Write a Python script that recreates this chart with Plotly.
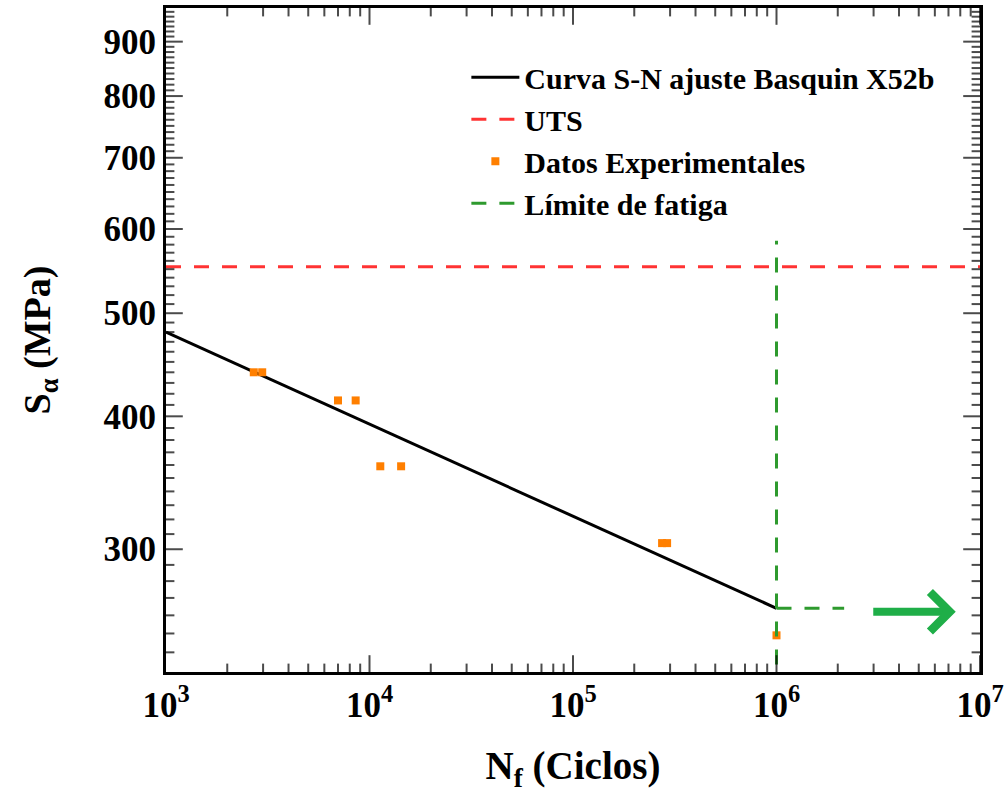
import math
import plotly.graph_objects as go

# Basquin S-N fit (end points of the fitted line)
fit_N = [1e3, 1e6]
fit_S = [480, 264]

# Ultimate tensile strength
uts_N = [1e3, 1e7]
uts_S = [553, 553]

# Experimental results (cycles to failure, stress amplitude)
exp_N = [2700, 2970, 7000, 8550, 11300, 14300, 274000, 290000, 1000000]
exp_S = [440, 440, 414, 414, 359, 359, 304, 304, 249]

# Fatigue limit at 1e6 cycles (vertical marker + horizontal run-out)
lim_N = [1e6, 1e6, None, 1e6, 2.15e6]
lim_S = [220, 585, None, 264, 264]

# Run-out arrow (tip position)
arrow_N = 7.6e6
arrow_S = 262

x_ticks = [1e3, 1e4, 1e5, 1e6, 1e7]
x_ticktext = ["<b>10<sup>%d</sup></b>" % e for e in range(3, 8)]
y_ticks = [300, 400, 500, 600, 700, 800, 900]
y_ticktext = ["<b>%d</b>" % v for v in y_ticks]

x_minor = [m * 10 ** d for d in range(3, 7) for m in range(2, 10)]
y_minor = [v for v in range(230, 970, 10) if v not in y_ticks]

FONT = "Liberation Serif"
W, H = 1006, 805
M = dict(l=166, r=26, t=8, b=133)
X_RANGE = [3, 7]
Y_RANGE = [math.log10(230), math.log10(968)]
MAJOR_LEN, MINOR_LEN = 14, 7

# decades per pixel along each axis, used to place the inward tick marks
dx = (X_RANGE[1] - X_RANGE[0]) / (W - M["l"] - M["r"])
dy = (Y_RANGE[1] - Y_RANGE[0]) / (H - M["t"] - M["b"])
x_lo, x_hi = 10 ** X_RANGE[0], 10 ** X_RANGE[1]
y_lo, y_hi = 10 ** Y_RANGE[0], 10 ** Y_RANGE[1]

# vertical tick markers along bottom and top edges
vt_x, vt_y, vt_s = [], [], []
for vals, length in ((x_ticks, MAJOR_LEN), (x_minor, MINOR_LEN)):
    f = 10 ** (length / 2 * dy)
    for v in vals:
        vt_x += [v, v]
        vt_y += [y_lo * f, y_hi / f]
        vt_s += [length, length]

# horizontal tick markers along left and right edges
ht_x, ht_y, ht_s = [], [], []
for vals, length in ((y_ticks, MAJOR_LEN), (y_minor, MINOR_LEN)):
    f = 10 ** (length / 2 * dx)
    for v in vals:
        ht_x += [x_lo * f, x_hi / f]
        ht_y += [v, v]
        ht_s += [length, length]

fig = go.Figure()
fig.add_trace(go.Scatter(x=fit_N, y=fit_S, mode="lines",
                         line=dict(color="black", width=3),
                         name="<b>Curva S-N ajuste Basquin X52b</b>"))
fig.add_trace(go.Scatter(x=uts_N, y=uts_S, mode="lines",
                         line=dict(color="#ff3333", width=3, dash="15px,13px"),
                         name="<b>UTS</b>"))
fig.add_trace(go.Scatter(x=exp_N, y=exp_S, mode="markers",
                         marker=dict(color="#ff7f00", size=8, symbol="square", line=dict(width=0)),
                         name="<b>Datos Experimentales</b>"))
fig.add_trace(go.Scatter(x=lim_N, y=lim_S, mode="lines",
                         line=dict(color="#2e9a2e", width=3, dash="15px,13px"),
                         name="<b>Límite de fatiga</b>", connectgaps=False))
fig.add_trace(go.Scatter(x=vt_x, y=vt_y, mode="markers", cliponaxis=False,
                         marker=dict(symbol="line-ns", size=vt_s, color="black",
                                     line=dict(color="black", width=2)),
                         showlegend=False, hoverinfo="skip"))
fig.add_trace(go.Scatter(x=ht_x, y=ht_y, mode="markers", cliponaxis=False,
                         marker=dict(symbol="line-ew", size=ht_s, color="black",
                                     line=dict(color="black", width=2)),
                         showlegend=False, hoverinfo="skip"))

fig.add_annotation(x=math.log10(arrow_N), y=math.log10(arrow_S), xref="x", yref="y",
                   ax=-84, ay=0, text="", showarrow=True,
                   arrowhead=4, arrowsize=0.95, arrowwidth=8, arrowcolor="#1fae48")

frame = dict(type="log", showline=True, linecolor="black", linewidth=3, mirror=True,
             ticks="", showgrid=False, zeroline=False)
tick_font = dict(family=FONT, size=35, color="black")

fig.update_layout(
    xaxis=dict(**frame, range=X_RANGE, tickmode="array",
               tickvals=x_ticks, ticktext=x_ticktext, tickfont=tick_font,
               title=dict(text="<b>N<sub>f</sub> (Ciclos)</b>",
                          font=dict(family=FONT, size=39, color="black"),
                          standoff=28)),
    yaxis=dict(**frame, range=Y_RANGE, tickmode="array",
               tickvals=y_ticks, ticktext=y_ticktext, tickfont=tick_font,
               title=dict(text="<b>S<sub>α</sub> (MPa)</b>",
                          font=dict(family=FONT, size=38, color="black"),
                          standoff=42)),
    width=W, height=H,
    margin=dict(**M, autoexpand=False),
    paper_bgcolor="white", plot_bgcolor="white",
    showlegend=True,
    legend=dict(x=0.369, y=0.935, xanchor="left", yanchor="top",
                bgcolor="rgba(0,0,0,0)", borderwidth=0,
                font=dict(family=FONT, size=30, color="black"),
                itemwidth=48, tracegroupgap=0),
)

fig.write_html("out.html")
